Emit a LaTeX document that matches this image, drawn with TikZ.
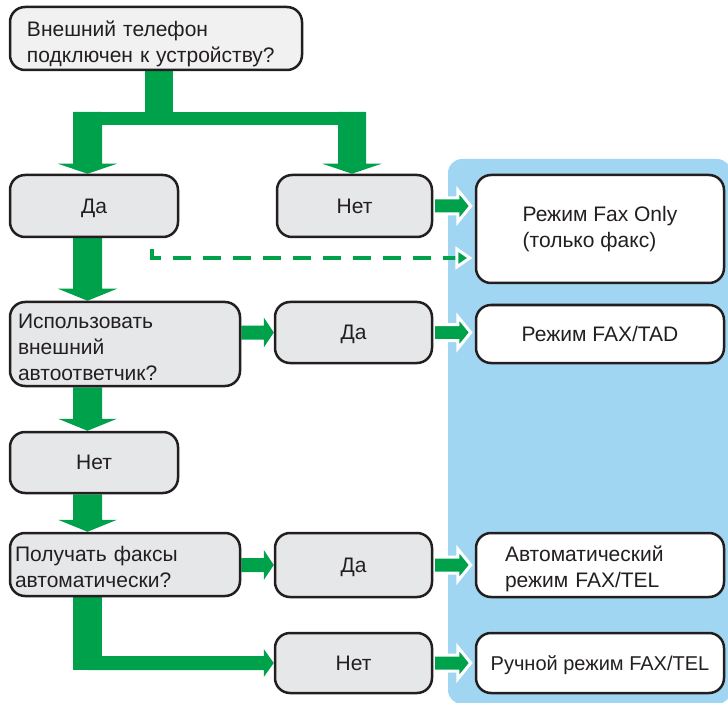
\documentclass[tikz,border=0pt]{standalone}
\usepackage{fontspec}
\setmainfont{Liberation Sans}
\usetikzlibrary{calc}
\pgfdeclarelayer{panel}
\pgfdeclarelayer{flow}
\pgfsetlayers{panel,flow,main}
\definecolor{flowgreen}{RGB}{0,161,75}
\definecolor{boxgray}{RGB}{230,231,232}
\definecolor{topgray}{RGB}{241,241,242}
\definecolor{panelblue}{RGB}{160,214,242}
\definecolor{edgecol}{RGB}{35,31,32}
\tikzset{
  box/.style={draw=edgecol, line width=2.5pt, rounded corners=15pt, fill=boxgray,
    font=\fontsize{21}{26}\selectfont, inner sep=0pt, text=edgecol},
  oneline/.style={text depth=0pt},
  modebox/.style={box, fill=white},
  gflow/.style={fill=flowgreen},
  gline/.style={draw=flowgreen},
  gout/.style={fill=flowgreen, draw=white, line width=3pt, line join=miter},
}
\newcommand\topgap[1]{\rule{0pt}{#1}}
% horizontal arrow: style, start, tip (x only), half shaft, half head, head length
\newcommand\harrowx[6][gflow]{%
  \path[#1] let \p1=(#2), \p2=(#3) in
    (\x1,\y1+#4) -- (\x2-#6,\y1+#4) -- (\x2-#6,\y1+#5) -- (\x2,\y1)
    -- (\x2-#6,\y1-#5) -- (\x2-#6,\y1-#4) -- (\x1,\y1-#4) -- cycle;}
% vertical (downward) arrow: style, start, tip (y only), half shaft, half head, head length
\newcommand\varrowx[6][gflow]{%
  \path[#1] let \p1=(#2), \p2=(#3) in
    (\x1-#4,\y1) -- (\x1-#4,\y2+#6) -- (\x1-#5,\y2+#6) -- (\x1,\y2)
    -- (\x1+#5,\y2+#6) -- (\x1+#4,\y2+#6) -- (\x1+#4,\y1) -- cycle;}
\begin{document}
\begin{tikzpicture}[x=1pt,y=-1pt]
\path[use as bounding box, clip] (0,0) rectangle (728,703);
\begin{pgfonlayer}{panel}
\fill[panelblue, rounded corners=14pt] (448,159) rectangle (731,704);
\end{pgfonlayer}

% helper coordinates
\coordinate (col) at (87.5,0);
\coordinate (rcol) at (352,0);
\coordinate (trunk) at (159,0);
\coordinate (bartop) at (0,112);
\coordinate (barmid) at (0,118.5);

% boxes
\path
  node[box, fill=topgray, minimum width=292pt, minimum height=63pt, text width=258pt, align=left]
    (q1) at (156,38.5) {\topgap{27pt}Внешний телефон\\подключен к устройству?}
  node[box, oneline, minimum width=168pt, minimum height=62pt] (da1) at (94,206) {Да}
  node[box, oneline, minimum width=155pt, minimum height=62pt] (net1) at (354.5,206) {Нет}
  node[box, minimum width=230pt, minimum height=84pt, text width=214pt, align=left]
    (q2) at (125,344) {\topgap{22pt}Использовать\\внешний\\автоответчик?}
  node[box, oneline, minimum width=157pt, minimum height=61pt] (da2) at (353.5,332.5) {Да}
  node[box, oneline, minimum width=168pt, minimum height=61pt] (net2) at (94,462.5) {Нет}
  node[box, minimum width=230pt, minimum height=63pt, text width=220pt, align=left]
    (q3) at (125,564.5) {\topgap{21pt}Получать факсы\\автоматически?}
  node[box, oneline, minimum width=157pt, minimum height=64pt] (da3) at (353.5,565) {Да}
  node[box, oneline, minimum width=157pt, minimum height=60pt] (net3) at (353.5,663) {Нет}
  node[modebox, minimum width=248pt, minimum height=108pt, align=left]
    (fax) at (600,229) {Режим Fax Only\\(только факс)}
  node[modebox, oneline, minimum width=248pt, minimum height=58pt] (tad) at (600,334) {Режим FAX/TAD}
  node[modebox, minimum width=248pt, minimum height=64pt, text width=190pt, align=left]
    (autom) at (600,565) {\topgap{24pt}Автоматический\\режим FAX/TEL}
  node[modebox, oneline, minimum width=248pt, minimum height=60pt, font=\fontsize{20}{26}\selectfont]
    (manual) at (600,663) {Ручной режим FAX/TEL};

\begin{pgfonlayer}{flow}
% green flow connectors
\draw[gline, line width=28pt] (q1.south -| trunk) -- (trunk |- barmid);
\draw[gline, line width=13pt] (col |- barmid) -- (rcol |- barmid);
\varrowx{col |- bartop}{da1.north}{14.5pt}{29.5pt}{10pt}
\varrowx{rcol |- bartop}{net1.north}{14pt}{29.5pt}{10pt}
\varrowx{da1.south -| col}{q2.north}{14.5pt}{29.5pt}{12pt}
\varrowx{q2.south -| col}{net2.north}{14.5pt}{29.5pt}{12pt}
\varrowx{net2.south -| col}{q3.north}{14.5pt}{29.5pt}{12pt}
\draw[gline, line width=29pt] (q3.south -| col) -- ($(col |- net3.west)+(0,7)$);
\harrowx{col |- net3.west}{net3.west}{7pt}{14pt}{10pt}
\harrowx{q2.east |- da2.west}{da2.west}{7pt}{15pt}{10pt}
\harrowx{q3.east |- da3.west}{da3.west}{7pt}{15pt}{10pt}
\harrowx[gout]{net1.east}{$(fax.west)+(-4,0)$}{8pt}{16pt}{13pt}
\harrowx[gout]{da2.east}{$(tad.west)+(-4,0)$}{8pt}{16pt}{13pt}
\harrowx[gout]{da3.east}{$(autom.west)+(-4,0)$}{8pt}{16pt}{13pt}
\harrowx[gout]{net3.east}{$(manual.west)+(-4,0)$}{8pt}{16pt}{13pt}

% dashed connector
\coordinate (d0) at ($(da1.south)+(58,11)$);
\coordinate (d1) at ($(fax.west)+(-18,29)$);
\draw[gline, line width=4.5pt, dash pattern=on 18pt off 12pt] (d0) |- (d1);
\harrowx[gout]{d1}{$(fax.west)+(-5,0)$}{2.25pt}{9pt}{13pt}
\end{pgfonlayer}
\end{tikzpicture}
\end{document}
